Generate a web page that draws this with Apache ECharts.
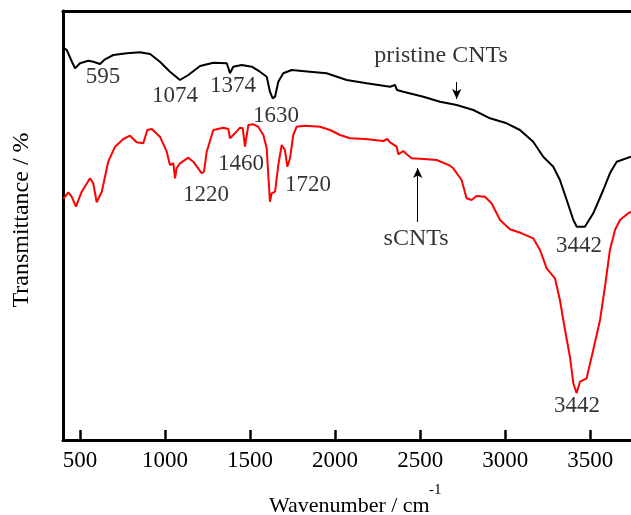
<!DOCTYPE html>
<html>
<head>
<meta charset="utf-8">
<script src="https://cdn.jsdelivr.net/npm/echarts@6/dist/echarts.min.js"></script>
<style>
html,body{margin:0;padding:0;background:#fff;}
#c{width:631px;height:515px;}
</style>
</head>
<body>
<div id="c"></div>
<script>
// Wavenumber (cm^-1) and transmittance (arbitrary units)
var blackWn = [403,406,422,453,471,500,549,578,618,647,696,775,853,912,970,1029,1088,1137,1206,1284,1363,1376,1382,1401,1451,1510,1558,1598,1617,1633,1647,1666,1695,1745,1852,1950,2068,2186,2323,2352,2364,2372,2401,2519,2617,2715,2813,2911,3009,3087,3165,3224,3283,3322,3362,3401,3421,3469,3518,3577,3616,3656,3740];
var blackT  = [396,392,390,378,371.7,376.7,379.3,378.3,376,380.7,385,386.7,387.7,386,378.3,368.3,360,365,374,377.3,376.7,370,366.7,373.3,375,373.3,368.3,363.3,348.3,341.7,343.3,358.3,366.7,370,368.3,366.7,360,356.7,353.3,355,350,348.3,348.3,343.3,338.3,335,330,321.7,316.7,310,298.3,283.3,273.3,260,240,220,213.3,213.3,226.7,250,266.7,278.3,283.3];

var redWn = [403,412,431,451,476,510,559,578,598,628,666,706,755,794,833,872,896,922,970,1010,1029,1049,1059,1068,1088,1137,1166,1216,1229,1245,1284,1343,1372,1382,1411,1441,1457,1470,1490,1519,1548,1578,1598,1607,1617,1627,1647,1666,1686,1705,1719,1735,1754,1774,1823,1911,1970,2029,2088,2176,2283,2307,2323,2362,2372,2401,2421,2450,2519,2597,2676,2695,2744,2773,2803,2832,2881,2920,2970,3028,3097,3165,3205,3244,3293,3322,3352,3381,3401,3420,3440,3479,3518,3558,3587,3616,3646,3675,3724,3740];
var redT  = [241,243.3,247.7,243.3,233.3,248.3,261.7,256.7,237.7,248.3,278.3,293.3,301,304.3,297.7,296.7,310,311,303.3,288.3,275,276.7,261.7,271.7,276.7,282.3,278.3,266.7,268.3,288.3,310,312.3,311,301.7,306.7,312.3,311.7,293.3,315,315.7,313.3,305,291.7,265,238.3,246.7,248.3,275,295,290,273.3,281.7,305,313.3,314.3,313.3,310,305,301.7,301,299,301,297.7,293.3,285.7,289,285.7,281.7,281,280,274.3,271.7,260,241.7,240,244,243.3,236.7,220,210.7,206.7,201.7,190,171.7,161.7,140,110,83.3,56.7,46.7,58.3,61.7,90,120,153.3,190,210,220,226.7,228.3];

var tickLabels = [500,1000,1500,2000,2500,3000,3500];

// annotation texts and their anchor positions (wavenumber, transmittance)
var annText = ['595','1074','1374','1630','1220','1460','1720','3442','3442'];
var annWn   = [635,1059,1400,1652,1241,1447,1841,3434,3422];
var annT    = [363,344,354,324,245,276,255,194,34];
var nameText = ['pristine CNTs','sCNTs'];
var nameWn   = [2623,2476];
var nameT    = [384,201];
// arrows: [wn, from T, to T]
var arrowBlack = [2715,358,341];
var arrowRed   = [2486,218,272];

function zip(a,b){ return a.map(function(v,i){ return [v,b[i]]; }); }

var FONT = '"Liberation Serif","Times New Roman",serif';
var chart = echarts.init(document.getElementById('c'), null, {renderer:'canvas'});

var annData = annText.map(function(t,i){ return {name:t, value:[annWn[i],annT[i]]}; })
  .concat(nameText.map(function(t,i){ return {name:t, value:[nameWn[i],nameT[i]], label:{fontSize:24}}; }));

chart.setOption({
  animation:false,
  backgroundColor:'#fff',
  grid:{left:63, right:0, top:11, bottom:75},
  xAxis:[{
    type:'value', min:400, max:3740, position:'bottom',
    splitLine:{show:false},
    axisLine:{show:true, onZero:false, lineStyle:{color:'#000', width:3}},
    axisTick:{show:true, inside:true, length:10, customValues:tickLabels, lineStyle:{color:'#000', width:2.5}},
    axisLabel:{show:true, customValues:tickLabels, margin:9, color:'#000', fontSize:23, fontFamily:FONT,
      formatter:function(v){ return String(v); }}
  },{
    type:'value', min:400, max:3740, position:'top',
    splitLine:{show:false},
    axisLine:{show:true, onZero:false, lineStyle:{color:'#000', width:3}},
    axisTick:{show:false}, axisLabel:{show:false}
  }],
  yAxis:{
    type:'value', min:0, max:429,
    splitLine:{show:false},
    axisLine:{show:true, onZero:false, lineStyle:{color:'#000', width:3}},
    axisTick:{show:false}, axisLabel:{show:false}
  },
  series:[{
    type:'line', name:'pristine CNTs', data:zip(blackWn,blackT), showSymbol:false, symbol:'none',
    lineStyle:{color:'#000', width:2}, silent:true,
    markLine:{silent:true, symbol:['none','arrow'], symbolSize:[7,10], label:{show:false},
      lineStyle:{color:'#000', width:1, type:'solid'},
      data:[[{coord:[arrowBlack[0],arrowBlack[1]]},{coord:[arrowBlack[0],arrowBlack[2]]}]]}
  },{
    type:'line', name:'sCNTs', data:zip(redWn,redT), showSymbol:false, symbol:'none',
    lineStyle:{color:'#ff0000', width:2}, silent:true,
    markLine:{silent:true, symbol:['none','arrow'], symbolSize:[7,10], label:{show:false},
      lineStyle:{color:'#000', width:1, type:'solid'},
      data:[[{coord:[arrowRed[0],arrowRed[1]]},{coord:[arrowRed[0],arrowRed[2]]}]]}
  },{
    type:'scatter', data:annData, symbolSize:1, itemStyle:{color:'rgba(0,0,0,0)'}, silent:true,
    label:{show:true, position:'inside', formatter:'{b}', color:'#000', fontSize:23, fontFamily:FONT}
  }],
  graphic:[
    {type:'text', x:269, y:506, style:{text:'Wavenumber / cm', fill:'#000', font:'22px ' + FONT, textAlign:'left', textVerticalAlign:'middle'}},
    {type:'text', x:429, y:490, style:{text:'-1', fill:'#000', font:'15px ' + FONT, textAlign:'left', textVerticalAlign:'middle'}},
    {type:'text', x:22, y:220, rotation:Math.PI/2, style:{text:'Transmittance / %', fill:'#000', font:'24px ' + FONT, textAlign:'center', textVerticalAlign:'middle'}}
  ]
});
</script>
</body>
</html>
